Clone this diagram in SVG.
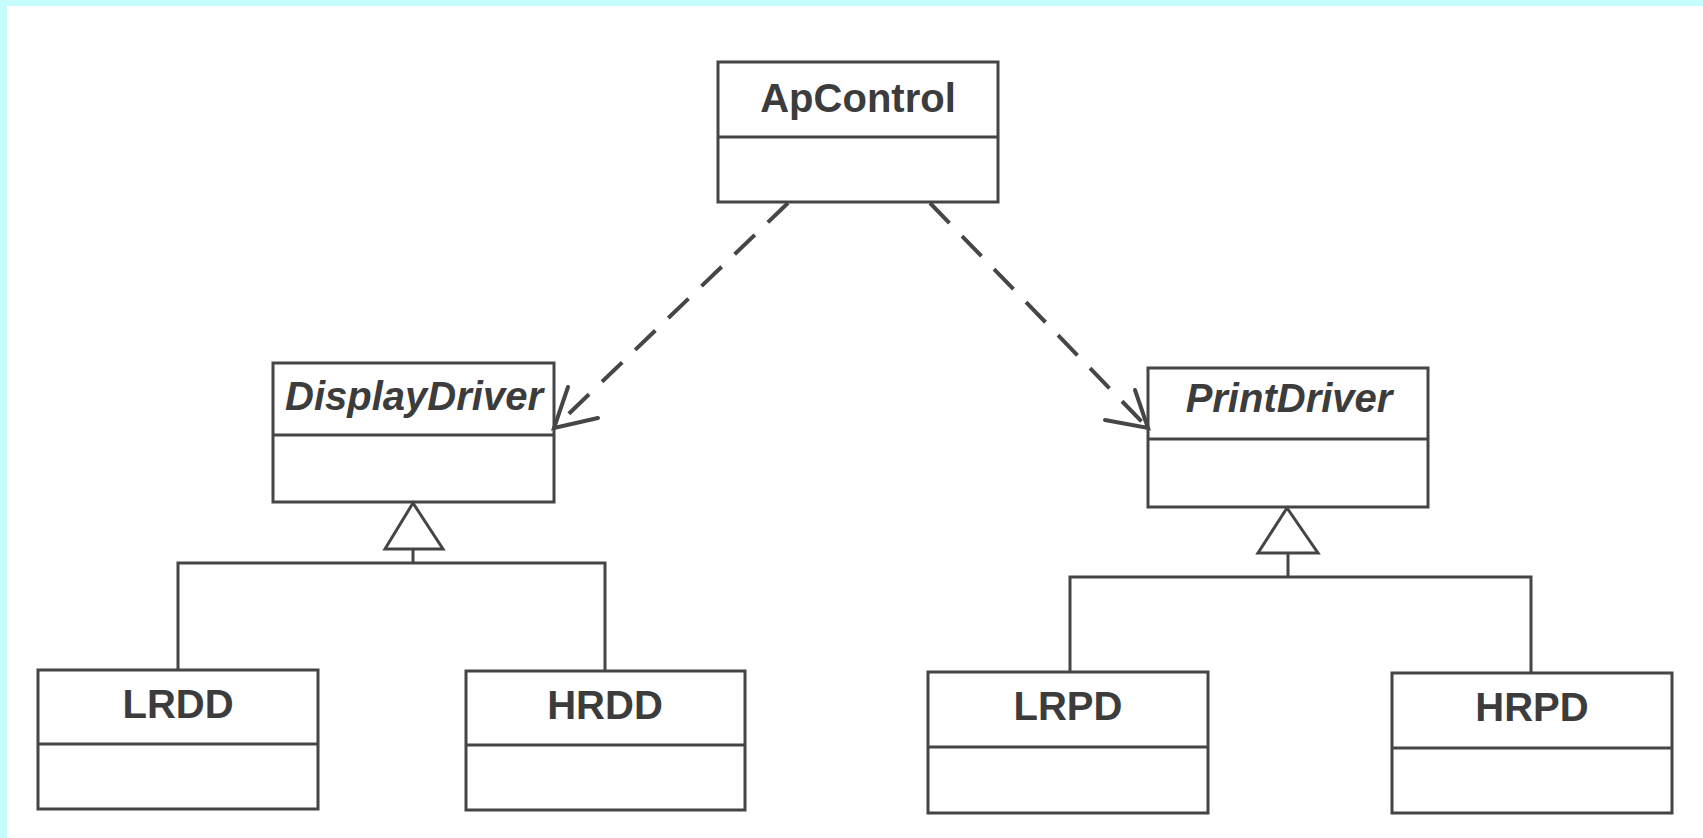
<svg xmlns="http://www.w3.org/2000/svg" width="1703" height="838" viewBox="0 0 1703 838">
  <style>
    .box { fill: #ffffff; stroke: #454545; stroke-width: 3; }
    .sep { stroke: #454545; stroke-width: 3; }
    .name { font-family: "Liberation Sans", Arial, sans-serif; font-weight: bold; font-size: 40px; fill: #3c3c3c; text-anchor: middle; }
    .abstract { font-style: italic; }
    .line { fill: none; stroke: #454545; stroke-width: 3; }
    .dep { fill: none; stroke: #464646; stroke-width: 4; stroke-dasharray: 28 18; }
    .head { fill: none; stroke: #464646; stroke-width: 4; stroke-linecap: round; }
    .tri { fill: #ffffff; stroke: #454545; stroke-width: 3; stroke-linejoin: miter; }
  </style>

  <!-- page background with tinted top and left margins -->
  <rect x="0" y="0" width="1703" height="838" fill="#ffffff"/>
  <rect x="0" y="0" width="1703" height="6" fill="#c6fcfc"/>
  <rect x="0" y="0" width="7" height="838" fill="#c6fcfc"/>

  <!-- class boxes -->
  <g id="ApControl">
    <rect class="box" x="718" y="62" width="280" height="140"/>
    <line class="sep" x1="718" y1="137" x2="998" y2="137"/>
    <text class="name" x="858" y="112">ApControl</text>
  </g>

  <g id="DisplayDriver">
    <rect class="box" x="273" y="363" width="281" height="139"/>
    <line class="sep" x1="273" y1="435" x2="554" y2="435"/>
    <text class="name abstract" x="414" y="410">DisplayDriver</text>
  </g>

  <g id="PrintDriver">
    <rect class="box" x="1148" y="368" width="280" height="139"/>
    <line class="sep" x1="1148" y1="439" x2="1428" y2="439"/>
    <text class="name abstract" x="1289" y="412">PrintDriver</text>
  </g>

  <g id="LRDD">
    <rect class="box" x="38" y="670" width="280" height="139"/>
    <line class="sep" x1="38" y1="744" x2="318" y2="744"/>
    <text class="name" x="178" y="718">LRDD</text>
  </g>

  <g id="HRDD">
    <rect class="box" x="466" y="671" width="279" height="139"/>
    <line class="sep" x1="466" y1="745" x2="745" y2="745"/>
    <text class="name" x="605" y="719">HRDD</text>
  </g>

  <g id="LRPD">
    <rect class="box" x="928" y="672" width="280" height="141"/>
    <line class="sep" x1="928" y1="747" x2="1208" y2="747"/>
    <text class="name" x="1068" y="720">LRPD</text>
  </g>

  <g id="HRPD">
    <rect class="box" x="1392" y="673" width="280" height="140"/>
    <line class="sep" x1="1392" y1="748" x2="1672" y2="748"/>
    <text class="name" x="1532" y="721">HRPD</text>
  </g>

  <!-- connectors -->
  <g id="connectors">
    <!-- dependencies from ApControl -->
    <line class="dep" x1="788" y1="203" x2="555" y2="427"/>
    <polyline class="head" points="568,387 554,428 598,418"/>
    <line class="dep" x1="930" y1="203" x2="1146" y2="426"/>
    <polyline class="head" points="1135,390 1148,428 1105,420"/>

    <!-- generalization: DisplayDriver -->
    <polygon class="tri" points="413,503 385,549 443,549"/>
    <polyline class="line" points="413,549 413,563"/>
    <polyline class="line" points="178,670 178,563 605,563 605,671"/>

    <!-- generalization: PrintDriver -->
    <polygon class="tri" points="1287,508 1258,553 1318,553"/>
    <polyline class="line" points="1288,553 1288,577"/>
    <polyline class="line" points="1070,672 1070,577 1531,577 1531,673"/>
  </g>
</svg>
